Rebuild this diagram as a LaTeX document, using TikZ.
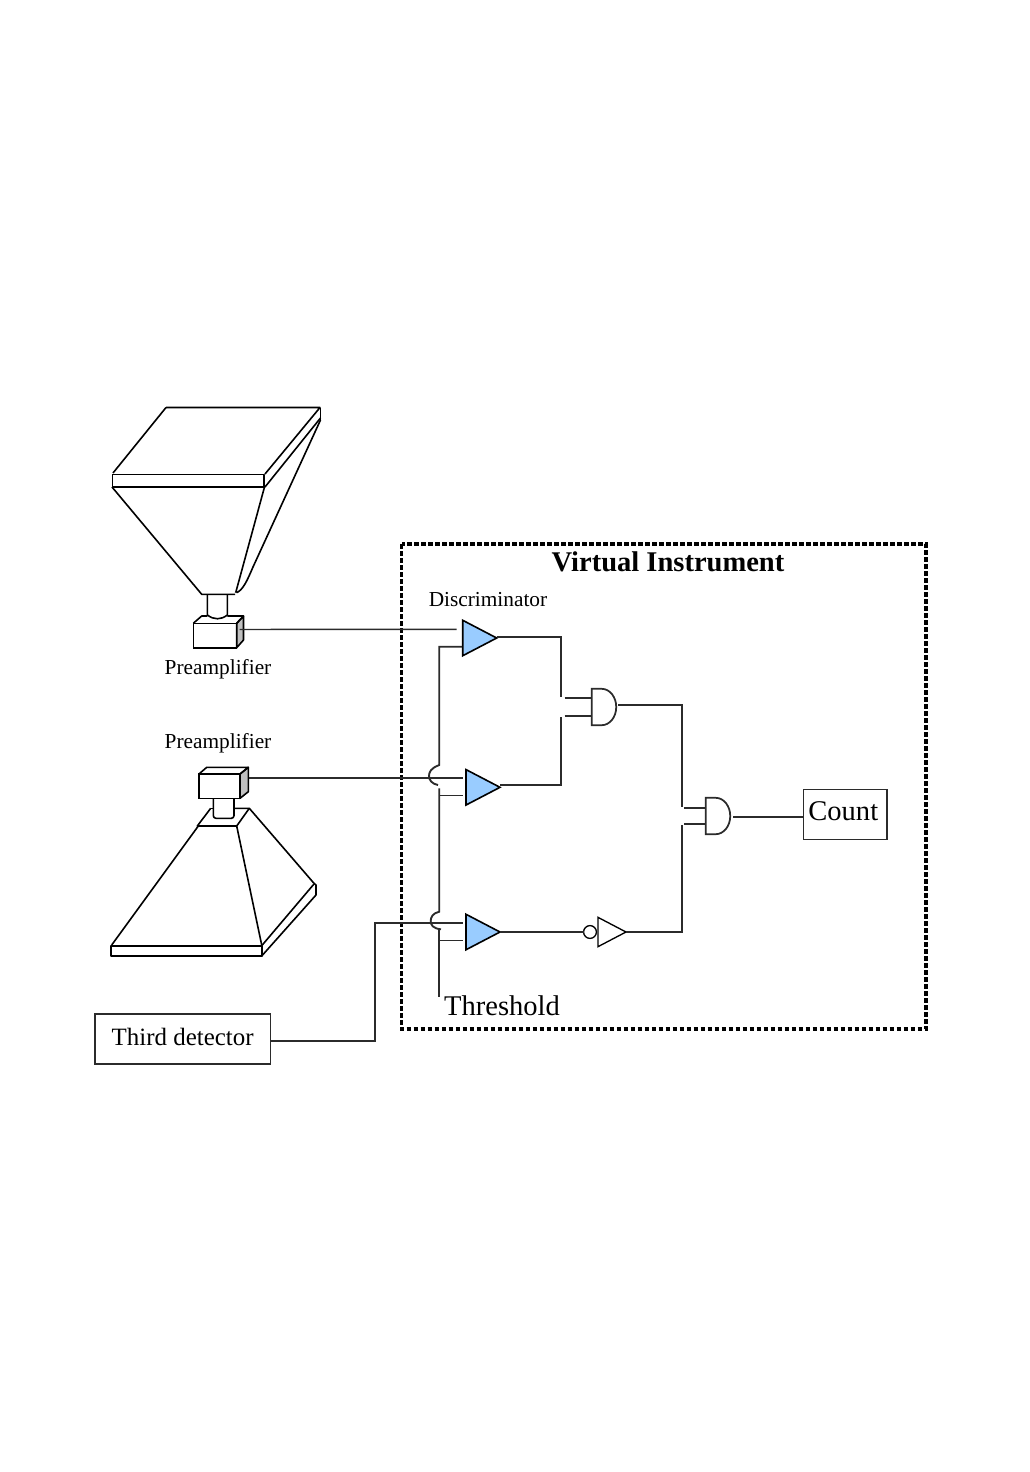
\documentclass[tikz,border=0pt]{standalone}
\usepackage{fontspec}
\setmainfont{Liberation Serif}
\usepackage{xcolor}
\usetikzlibrary{positioning,calc,shapes.geometric}
\definecolor{VIwire}{HTML}{2B2B2B}
\definecolor{VIblue}{HTML}{99CCFF}
\definecolor{VIside}{HTML}{C0C0C0}
\tikzset{
  outline/.style={line width=1.2pt, draw=black, line join=round},
  wire/.style={line width=1.5pt, draw=VIwire},
  thinwire/.style={line width=1.1pt, draw=VIwire},
  railwire/.style={line width=1.4pt, draw=VIwire},
  discbox/.style={isosceles triangle, isosceles triangle stretches, draw=black, line width=1.2pt, fill=VIblue, inner sep=0pt, outer sep=0pt, minimum width=26.6pt, minimum height=25.5pt, anchor=apex},
  notbox/.style={isosceles triangle, isosceles triangle stretches, draw=black, line width=1pt, fill=white, inner sep=0pt, outer sep=0pt, minimum width=22pt, minimum height=21pt, anchor=apex},
  bubble/.style={circle, draw=black, line width=1pt, fill=white, inner sep=0pt, outer sep=0pt, minimum size=9.6pt},
  andgate/.pic={\draw[draw=VIwire, line width=1.3pt] (0,-18.2) -- (10,-18.2) arc[start angle=90, end angle=-90, x radius=10.9pt, y radius=13.65pt] -- (0,18.2) -- cycle;},
  labelbox/.style={draw=VIwire, line width=1.1pt, inner sep=0pt, outer sep=0pt},
  ampbox/.style={draw=black, line width=1.2pt, inner sep=0pt, outer sep=0pt},
  smalltext/.style={font=\fontsize{16}{18}\selectfont, text=black},
  bigtext/.style={font=\fontsize{21.4}{24}\selectfont, text=black}
}

\begin{document}
\begin{tikzpicture}[x=0.75pt,y=-0.75pt]
\useasboundingbox (0,0) rectangle (1030,1472);
\fill[white] (0,0) rectangle (1030,1472);

% upper horn
\draw[outline] (166,407.5) -- (320,407.5) -- (265,474);
\draw[outline] (166,407.5) -- (113,473);
\draw[outline] (320.5,407.5) -- (320.5,420);
\draw[outline] (112.3,474.3) rectangle (263.7,486.7);
\draw[outline] (265,487) -- (320.5,418);
\draw[outline] (112,487) -- (201.7,594.3) -- (235,594.3);
\draw[outline] (264.5,487) -- (235.7,592.7);
\draw[outline] (320.5,420) -- (253,567) .. controls (247,581) and (243,590) .. (236.5,592.7);
\draw[outline] (207.3,595) -- (207.3,615) .. controls (214,620) and (221,620) .. (227.3,615) -- (227.3,595);
\draw[outline, fill=VIside] (236.7,623.3) -- (243.5,616) -- (243.5,640) -- (236.7,647.7) -- cycle;
\draw[outline] (193.3,623.3) -- (201.7,616) -- (207.3,616);
\draw[outline] (227.3,616) -- (243.5,616) -- (236.7,623.3);
\node[ampbox, minimum width=32.5pt, minimum height=18.3pt] (ampa) at (215,635.5) {};

% lower horn
\draw[outline] (210.7,808.3) -- (197.3,826) -- (236.7,826) -- (249.3,808.3);
\draw[outline] (210.7,808.3) -- (214,808.3);
\draw[outline] (234,808.3) -- (249.3,808.3) -- (314,883.3);
\draw[outline] (198.3,826) -- (111.7,945);
\draw[outline] (236.7,826) -- (261.7,945);
\draw[outline] (110.7,945.7) rectangle (261.7,956);
\draw[outline] (261.7,945.7) -- (314,884);
\draw[outline] (261.7,956) -- (316,895) -- (316,885) -- (314,883.3);
\draw[outline, rounded corners=2pt] (213.3,798) -- (213.3,818.3) -- (234,818.3) -- (234,798);
\draw[outline, fill=VIside] (240,774) -- (248.3,767.3) -- (248.3,791.7) -- (240,798.3) -- cycle;
\draw[outline] (199,774) -- (206.7,767.3) -- (248.3,767.3) -- (240,774);
\node[ampbox, minimum width=30.8pt, minimum height=18.2pt] (ampb) at (219.5,786.2) {};

\node[smalltext] (prea) at (218,669) {Preamplifier};
\node[smalltext] (preb) at (218,743) {Preamplifier};
\node[smalltext] (disc) at (488,600) {Discriminator};

\draw[draw=black, line width=2.3pt, dash pattern=on 3.4pt off 1.85pt] (401.5,544) rectangle (926,1029);
\node[bigtext, font=\fontsize{21.4}{24}\selectfont\bfseries] (vi) at (668,562) {Virtual Instrument};

\node[discbox] (da) at (496.7,638) {};
\node[discbox] (db) at (500,787.3) {};
\node[discbox] (dc) at (500,932) {};
\node[bubble] (inv) at (590,932) {};
\node[notbox] (nt) at (626,932) {};
\pic at (591.7,707) {andgate};
\pic at (705.7,816) {andgate};
\node[labelbox, minimum width=62.5pt, minimum height=37.8pt] (count) at (845.3,814.5) {\hspace{-3pt}\raisebox{5pt}{\fontsize{21.4}{24}\selectfont Count}};
\node[labelbox, minimum width=131.6pt, minimum height=37.5pt] (third) at (182.7,1039) {\raisebox{3.5pt}{\fontsize{18.7}{20}\selectfont Third detector}};
\node[bigtext] (thr) at (502,1006) {Threshold};

% pins of the discriminators and gates
\coordinate (dain) at (456.7,629.3);
\coordinate (dbin) at (463.3,777.7);
\coordinate (dcin) at (463.3,923.3);
\coordinate (dath) at (462,646.7);
\coordinate (dbth) at (463.3,795.7);
\coordinate (dcth) at (463.3,940.7);
\coordinate (thend) at (439.3,997);
\coordinate (trunk) at (439.3,795.7);
\coordinate (trunkb) at (439.3,940.7);
\coordinate (aina) at (564.7,698);
\coordinate (ainb) at (564.7,716.3);
\coordinate (bina) at (684,808);
\coordinate (binb) at (684,824);

\draw[thinwire] (ampa.east) ++(3,-6) -- (dain);
\draw[wire] (ampb.east) ++(9,-8.5) -- (dbin);
\draw[wire] (third.east) ++(0,2) -| (375,923.3) -- (dcin);

\draw[wire] (da.apex) ++(0,-1.3) -| (560.7,697.3);
\draw[wire] (db.apex) ++(0,-2) -| (560.7,716.7);
\draw[wire] (aina) -- (591.7,698);
\draw[wire] (ainb) -- (591.7,716.3);
\draw[wire] (618.3,704.7) -| (681.7,807.3);
\draw[wire] (nt.apex) -| (681.7,825);
\draw[wire] (bina) -- (705.7,808);
\draw[wire] (binb) -- (705.7,824);
\draw[wire] (733.3,816.7) -- (count.west |- 0,816.7);
\draw[wire] (dc.apex) -- (inv.west);

% threshold rail with its hops over the input lines
\draw[railwire] (dath) -- (439.3,646.7) -- (439.3,765) .. controls (431,768) and (429,772) .. (429,776) .. controls (429,780) and (432,784) .. (438,785);
\draw[railwire] (439.3,788.3) -- (trunk) -- (439.3,911.7) .. controls (433,913) and (430.7,917) .. (430.7,921) .. controls (430.7,925) and (433,928.5) .. (441,929.3);
\draw[railwire] (439.3,929.3) -- (thend);
\draw[thinwire] (trunk) -- (dbth);
\draw[thinwire] (trunkb) -- (dcth);
\end{tikzpicture}
\end{document}
